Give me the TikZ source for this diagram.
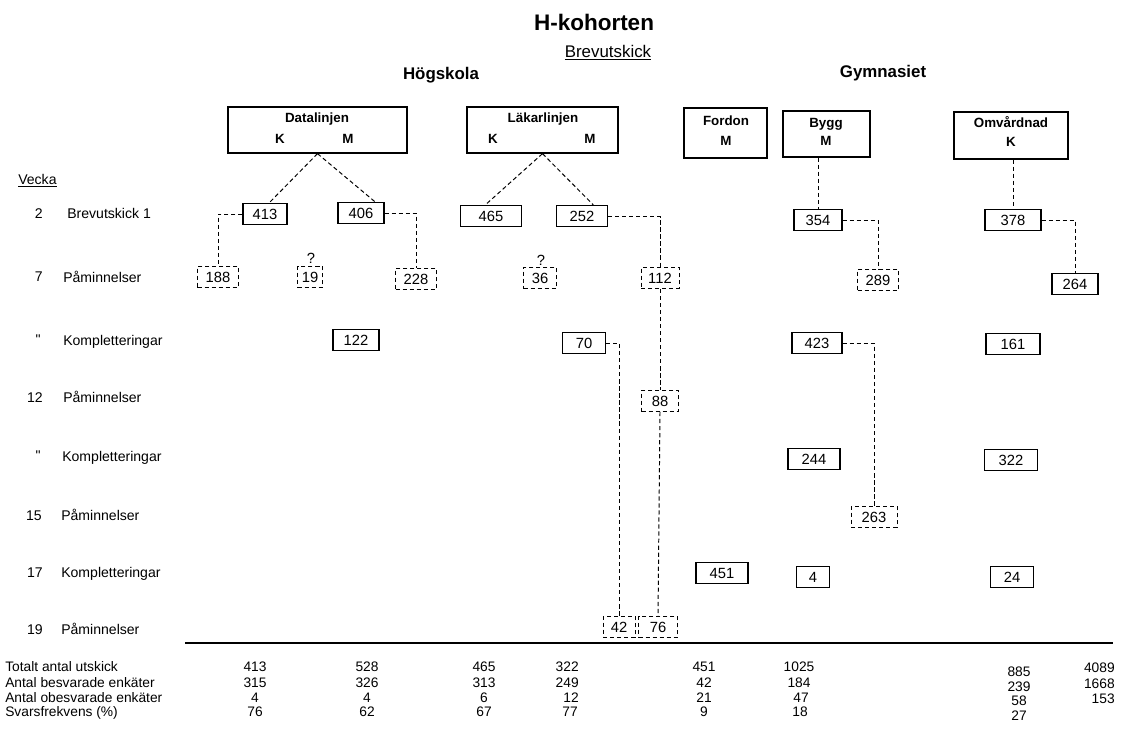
\documentclass[tikz,border=0pt]{standalone}
\usepackage{fontspec}
\setmainfont{Liberation Sans}
\newcommand{\numfont}{\fontsize{10.5}{12}\selectfont}
\newcommand{\lblfont}{\fontsize{10}{12}\selectfont}
\newcommand{\headfont}{\fontsize{9.5}{11}\selectfont\bfseries}
\newcommand{\tabfont}{\fontsize{9.8}{11}\selectfont}
\tikzset{
  kbox/.style={draw, line width=0.8pt, minimum height=0.53cm, inner sep=1pt, font=\numfont},
  pbox/.style={kbox, densely dashed, line width=0.5pt},
  headbox/.style={draw, line width=0.9pt},
  headtxt/.style={font=\headfont, inner sep=0pt, text height=1.6ex, text depth=0.4ex},
  link/.style={dash pattern=on 3pt off 2pt, line width=0.7pt},
  rowlbl/.style={font=\lblfont, anchor=west, inner sep=0pt, text height=1.6ex, text depth=0.4ex},
  weeknr/.style={font=\lblfont, anchor=east, inner sep=0pt, text height=1.6ex, text depth=0.4ex},
  tabtxt/.style={font=\tabfont, inner sep=0pt, text height=1.6ex, text depth=0.4ex},
}
\begin{document}
\begin{tikzpicture}[x=0.025cm, y=-0.025cm]
\useasboundingbox (0,0) rectangle (1123,738);

% Drawing titles
\node[font=\fontsize{16}{18}\selectfont\bfseries] (title) at (594,22) {H-kohorten};
\node[font=\fontsize{12}{14}\selectfont] (brev) at (608,53) {\underline{Brevutskick}};
\node[font=\fontsize{12}{14}\selectfont\bfseries] (hogsk) at (441,75) {Högskola};
\node[font=\fontsize{12}{14}\selectfont\bfseries] (gymn) at (883,73) {Gymnasiet};

% Drawing head boxes
\node[headbox, minimum width=4.475cm, minimum height=1.15cm] (data) at (317.5,130) {};
\node[headtxt] (dataname) at (317,118) {Datalinjen};
\node[headtxt] (datak) at (280,139) {K};
\node[headtxt] (datam) at (348,139) {M};
\node[headbox, minimum width=3.775cm, minimum height=1.15cm] (lak) at (542.5,130) {};
\node[headtxt] (lakname) at (543,118) {Läkarlinjen};
\node[headtxt] (lakk) at (493,139) {K};
\node[headtxt] (lakm) at (590,139) {M};
\node[headbox, minimum width=2.075cm, minimum height=1.25cm] (ford) at (725.5,133) {};
\node[headtxt] (fordname) at (726,121) {Fordon};
\node[headtxt] (fordm) at (726,141) {M};
\node[headbox, minimum width=2.175cm, minimum height=1.15cm] (bygg) at (826.5,134) {};
\node[headtxt] (byggname) at (826,123) {Bygg};
\node[headtxt] (byggm) at (826,141) {M};
\node[headbox, minimum width=2.85cm, minimum height=1.175cm] (omv) at (1011,135.5) {};
\node[headtxt] (omvname) at (1011,123) {Omvårdnad};
\node[headtxt] (omvk) at (1011,142) {K};

% Drawing week column
\node[rowlbl] (vecka) at (18,180) {\underline{Vecka}};
\node[weeknr] (w2) at (43,214) {2};
\node[rowlbl] (r2) at (67,214) {Brevutskick 1};
\node[weeknr] (w7) at (43,277) {7};
\node[rowlbl] (r7) at (63,278) {Påminnelser};
\node[weeknr] (wk1) at (41,340) {\textquotedbl};
\node[rowlbl] (rk1) at (63,341) {Kompletteringar};
\node[weeknr] (w12) at (43,398) {12};
\node[rowlbl] (r12) at (63,398) {Påminnelser};
\node[weeknr] (wk2) at (41,456) {\textquotedbl};
\node[rowlbl] (rk2) at (62,457) {Kompletteringar};
\node[weeknr] (w15) at (42,516) {15};
\node[rowlbl] (r15) at (61,516) {Påminnelser};
\node[weeknr] (w17) at (43,573) {17};
\node[rowlbl] (r17) at (61,573) {Kompletteringar};
\node[weeknr] (w19) at (43,630) {19};
\node[rowlbl] (r19) at (61,630) {Påminnelser};

% Drawing Datalinjen
\node[kbox, minimum width=1.1cm] (n413) at (265,214) {413};
\node[kbox, minimum width=1.15cm] (n406) at (361,213) {406};
\node[pbox, minimum width=1.025cm] (n188) at (218,277) {188};
\node[pbox, minimum width=0.625cm] (n19) at (310,277) {19};
\node[font=\numfont, inner sep=0pt] (q19) at (311,258) {?};
\node[pbox, minimum width=1.025cm] (n228) at (416,279) {228};
\node[kbox, minimum width=1.15cm] (n122) at (356,340) {122};

% Drawing Läkarlinjen
\node[kbox, minimum width=1.525cm] (n465) at (491,216) {465};
\node[kbox, minimum width=1.275cm] (n252) at (582,216) {252};
\node[pbox, minimum width=0.825cm] (n36) at (540,278) {36};
\node[font=\numfont, inner sep=0pt] (q36) at (541,260) {?};
\node[pbox, minimum width=0.95cm] (n112) at (660,278) {112};
\node[kbox, minimum width=1.075cm] (n70) at (584,343) {70};
\node[pbox, minimum width=0.925cm] (n88) at (660,401) {88};
\node[pbox, minimum width=0.8cm] (n42) at (619,627) {42};
\node[pbox, minimum width=0.975cm] (n76) at (658,627) {76};

% Drawing Fordon, Bygg, Omvårdnad
\node[kbox, minimum width=1.3cm] (n451) at (722,573) {451};
\node[kbox, minimum width=1.2cm] (n354) at (818,220) {354};
\node[pbox, minimum width=1.025cm] (n289) at (878,280) {289};
\node[kbox, minimum width=1.25cm] (n423) at (817,343) {423};
\node[kbox, minimum width=1.3cm] (n244) at (814,459) {244};
\node[pbox, minimum width=1.15cm] (n263) at (874,517) {263};
\node[kbox, minimum width=0.825cm] (n4) at (813,577) {4};
\node[kbox, minimum width=1.4cm] (n378) at (1013,220) {378};
\node[kbox, minimum width=1.15cm] (n264) at (1075,284) {264};
\node[kbox, minimum width=1.35cm] (n161) at (1013,344) {161};
\node[kbox, minimum width=1.325cm] (n322) at (1011,460) {322};
\node[kbox, minimum width=1.075cm] (n24) at (1012,577) {24};

% Drawing dashed links
\draw[link] (data.south) -- ([xshift=3pt]n413.north);
\draw[link] (data.south) -- ([xshift=10pt]n406.north);
\draw[link] (lak.south) -- ([xshift=-4pt]n465.north);
\draw[link] (lak.south) -- ([xshift=8pt]n252.north);
\draw[link] (n413.west) -| (n188.north);
\draw[link] (n406.east) -| (n228.north);
\draw[link] (n252.east) -| (n112.north);
\draw[link] (n112.south) -- (n88.north);
\draw[link] (n88.south) -- (n76.north);
\draw[link] (n70.east) -| (n42.north);
\draw[link] (bygg.south -| n354.north) -- (n354.north);
\draw[link] (omv.south -| n378.north) -- (n378.north);
\draw[link] (n354.east) -| (n289.north);
\draw[link] (n423.east) -| (n263.north);
\draw[link] (n378.east) -| (n264.north);

% Drawing rule
\draw[line width=1pt] (185,643) -- (1113,643);

% Drawing totals
\node[tabtxt, anchor=west] (lbl1) at (5,667) {Totalt antal utskick};
\node[tabtxt, anchor=west] (lbl2) at (5,683) {Antal besvarade enkäter};
\node[tabtxt, anchor=west] (lbl3) at (5,698) {Antal obesvarade enkäter};
\node[tabtxt, anchor=west] (lbl4) at (5,712) {Svarsfrekvens (\%)};
\node[tabtxt] (t1a) at (255,667) {413};
\node[tabtxt] (t1b) at (255,683) {315};
\node[tabtxt] (t1c) at (255,698) {4};
\node[tabtxt] (t1d) at (255,712) {76};
\node[tabtxt] (t2a) at (367,667) {528};
\node[tabtxt] (t2b) at (367,683) {326};
\node[tabtxt] (t2c) at (367,698) {4};
\node[tabtxt] (t2d) at (367,712) {62};
\node[tabtxt] (t3a) at (484,667) {465};
\node[tabtxt] (t3b) at (484,683) {313};
\node[tabtxt] (t3c) at (484,698) {6};
\node[tabtxt] (t3d) at (484,712) {67};
\node[tabtxt, anchor=east] (t4a) at (579,667) {322};
\node[tabtxt, anchor=east] (t4b) at (579,683) {249};
\node[tabtxt, anchor=east] (t4c) at (579,698) {12};
\node[tabtxt, anchor=east] (t4d) at (578,712) {77};
\node[tabtxt] (t5a) at (704,667) {451};
\node[tabtxt] (t5b) at (704,683) {42};
\node[tabtxt] (t5c) at (704,698) {21};
\node[tabtxt] (t5d) at (704,712) {9};
\node[tabtxt] (t6a) at (799,667) {1025};
\node[tabtxt] (t6b) at (799,683) {184};
\node[tabtxt] (t6c) at (801,698) {47};
\node[tabtxt] (t6d) at (800,712) {18};
\node[tabtxt] (t7a) at (1019,672) {885};
\node[tabtxt] (t7b) at (1019,687) {239};
\node[tabtxt] (t7c) at (1019,701) {58};
\node[tabtxt] (t7d) at (1019,716) {27};
\node[tabtxt, anchor=east] (t8a) at (1115,668) {4089};
\node[tabtxt, anchor=east] (t8b) at (1115,684) {1668};
\node[tabtxt, anchor=east] (t8c) at (1115,699) {153};
\end{tikzpicture}
\end{document}
